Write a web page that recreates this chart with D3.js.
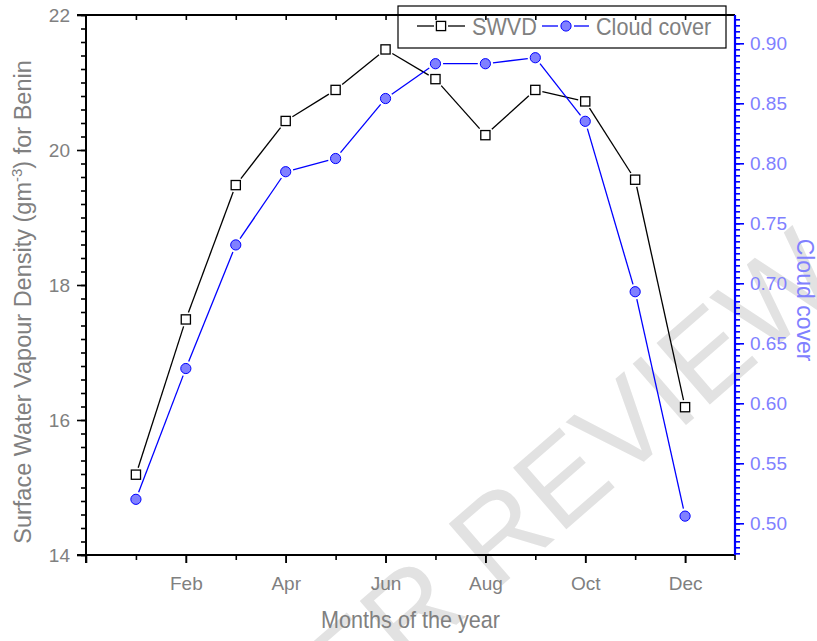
<!DOCTYPE html>
<html>
<head>
<meta charset="utf-8">
<script src="https://cdn.jsdelivr.net/npm/d3@7/dist/d3.min.js"></script>
<style>
  html, body { margin: 0; padding: 0; background: #fff; }
  svg { display: block; }
  text { font-family: "Liberation Sans", Arial, sans-serif; }
</style>
</head>
<body>
<svg id="chart" width="817" height="641"></svg>
<script>
// ---- data ----
const months = ["Jan","Feb","Mar","Apr","May","Jun","Jul","Aug","Sep","Oct","Nov","Dec"];
const monthIndex = [1,2,3,4,5,6,7,8,9,10,11,12];
const swvd = [15.19, 17.49, 19.48, 20.43, 20.89, 21.49, 21.05, 20.22, 20.89, 20.72, 19.56, 16.19];
const cloudCover = [0.520, 0.629, 0.732, 0.793, 0.804, 0.854, 0.883, 0.883, 0.888, 0.835, 0.693, 0.506];
const xTickValues = [2,4,6,8,10,12];
const xTickLabels = ["Feb","Apr","Jun","Aug","Oct","Dec"];
const leftTicks = [14,16,18,20,22];
const rightTicks = [0.50,0.55,0.60,0.65,0.70,0.75,0.80,0.85,0.90];
const seriesNames = ["SWVD","Cloud cover"];

// ---- layout ----
const svg = d3.select("#chart");
const L = 86, R = 735, T = 15, B = 555;
const x = d3.scaleLinear().domain([0,13]).range([L,R]);
const yL = d3.scaleLinear().domain([14,22]).range([B,T]);
const yR = d3.scaleLinear().domain([0.4736,0.9236]).range([B,T]);

const gray = "#808080", lblue = "#8080ff", blue = "#0000ff";

// ---- watermark ----
svg.append("text")
  .attr("transform","translate(846,286) rotate(-41)")
  .attr("text-anchor","end")
  .attr("font-size",118)
  .attr("fill","#e2e2e2")
  .text("PEER REVIEW");

// ---- legend (no fill; axis line runs through it) ----
const leg = svg.append("g");
leg.append("rect").attr("x",398).attr("y",6).attr("width",328).attr("height",42)
  .attr("fill","none").attr("stroke","#000").attr("stroke-width",1.2);

// ---- axes ----
function styleAxis(g, color, w) {
  g.select(".domain").remove();
  g.selectAll(".tick line").attr("stroke",color).attr("stroke-width",w);
}
// left
const gLmin = svg.append("g").attr("transform",`translate(${L},0)`)
  .call(d3.axisLeft(yL).tickValues(d3.range(14,22.001,0.2)).tickSize(5).tickFormat(""));
styleAxis(gLmin,"#000",1.6);
const gL = svg.append("g").attr("transform",`translate(${L},0)`)
  .call(d3.axisLeft(yL).tickValues(leftTicks).tickSize(9).tickPadding(7).tickFormat(d3.format("d")));
styleAxis(gL,"#000",1.6);
gL.selectAll("text").attr("font-size",19).attr("fill",gray);

// bottom
const gB = svg.append("g").attr("transform",`translate(0,${B})`)
  .call(d3.axisBottom(x).tickValues(d3.range(0,13)).tickSize(5).tickFormat(""));
styleAxis(gB,"#000",1.6);
gB.selectAll(".tick line").attr("y2", d => d % 2 === 0 ? 8 : 5);
const gBl = svg.append("g").attr("transform",`translate(0,${B})`)
  .call(d3.axisBottom(x).tickValues(xTickValues).tickSize(8).tickPadding(13.5)
    .tickFormat((d,i) => xTickLabels[i]));
styleAxis(gBl,"#000",1.6);
gBl.selectAll("text").attr("font-size",19).attr("fill",gray);

// top (inward ticks)
const gT = svg.append("g").attr("transform",`translate(0,${T})`)
  .call(d3.axisBottom(x).tickValues(d3.range(1,13)).tickSize(5).tickFormat(""));
styleAxis(gT,"#000",1.6);

// right
const gRmin = svg.append("g").attr("transform",`translate(${R},0)`)
  .call(d3.axisRight(yR).tickValues(d3.range(0.475,0.9236,0.005)).tickSize(5).tickFormat(""));
styleAxis(gRmin,blue,1.6);
const gR = svg.append("g").attr("transform",`translate(${R},0)`)
  .call(d3.axisRight(yR).tickValues(rightTicks).tickSize(9).tickPadding(6).tickFormat(d3.format(".2f")));
styleAxis(gR,blue,1.6);
gR.selectAll("text").attr("font-size",19).attr("fill",lblue);

// axis lines
svg.append("line").attr("x1",L-9).attr("x2",R).attr("y1",T).attr("y2",T).attr("stroke","#000").attr("stroke-width",2);
svg.append("line").attr("x1",L-9).attr("x2",R).attr("y1",B).attr("y2",B).attr("stroke","#000").attr("stroke-width",2);
svg.append("line").attr("x1",L).attr("x2",L).attr("y1",T).attr("y2",B+8).attr("stroke","#000").attr("stroke-width",2);
svg.append("line").attr("x1",R).attr("x2",R).attr("y1",T).attr("y2",B).attr("stroke",blue).attr("stroke-width",2.2);
svg.append("line").attr("x1",R).attr("x2",R).attr("y1",B).attr("y2",B+5).attr("stroke","#000").attr("stroke-width",1.6);

// ---- titles ----
svg.append("text").attr("transform",`translate(${(L+R)/2},628) scale(0.92,1)`)
  .attr("text-anchor","middle").attr("font-size",23.5).attr("fill",gray)
  .text("Months of the year");

const yt = svg.append("text").attr("transform","translate(31,302) rotate(-90)")
  .attr("text-anchor","middle").attr("font-size",23.5).attr("fill",gray);
yt.append("tspan").text("Surface Water Vapour Density (gm");
yt.append("tspan").attr("dy",-9).attr("font-size",15).text("-3");
yt.append("tspan").attr("dy",9).text(") for Benin");

svg.append("text").attr("transform","translate(797,300) rotate(90)")
  .attr("text-anchor","middle").attr("font-size",23).attr("fill",lblue)
  .text("Cloud cover");

// ---- series ----
const SQ = 9.2, CR = 5.1, GAP = 2.5;
function segs(pts, offFn) {
  const out = [];
  for (let i = 0; i < pts.length - 1; i++) {
    const [x1,y1] = pts[i], [x2,y2] = pts[i+1];
    const dx = x2-x1, dy = y2-y1, d = Math.hypot(dx,dy);
    const ux = dx/d, uy = dy/d, o = offFn(ux,uy);
    if (d > 2*o) out.push([x1+ux*o, y1+uy*o, x2-ux*o, y2-uy*o]);
  }
  return out;
}
const sqOff = (ux,uy) => (SQ/2)/Math.max(Math.abs(ux),Math.abs(uy)) + GAP;
const ciOff = () => CR + GAP;

const pS = monthIndex.map((m,i) => [x(m), yL(swvd[i])]);
const pC = monthIndex.map((m,i) => [x(m), yR(cloudCover[i])]);

svg.append("g").selectAll("line").data(segs(pS,sqOff)).join("line")
  .attr("x1",d=>d[0]).attr("y1",d=>d[1]).attr("x2",d=>d[2]).attr("y2",d=>d[3])
  .attr("stroke","#000").attr("stroke-width",1.3);
svg.append("g").selectAll("line").data(segs(pC,ciOff)).join("line")
  .attr("x1",d=>d[0]).attr("y1",d=>d[1]).attr("x2",d=>d[2]).attr("y2",d=>d[3])
  .attr("stroke",blue).attr("stroke-width",1.3);

svg.append("g").selectAll("rect").data(pS).join("rect")
  .attr("x",d=>d[0]-SQ/2).attr("y",d=>d[1]-SQ/2).attr("width",SQ).attr("height",SQ)
  .attr("fill","#fff").attr("stroke","#000").attr("stroke-width",1.3);
svg.append("g").selectAll("circle").data(pC).join("circle")
  .attr("cx",d=>d[0]).attr("cy",d=>d[1]).attr("r",CR)
  .attr("fill",lblue).attr("stroke",blue).attr("stroke-width",1);

// ---- legend contents ----
const ly = 26;
leg.append("line").attr("x1",417).attr("x2",434).attr("y1",ly).attr("y2",ly).attr("stroke","#000").attr("stroke-width",1.3);
leg.append("line").attr("x1",448).attr("x2",465).attr("y1",ly).attr("y2",ly).attr("stroke","#000").attr("stroke-width",1.3);
leg.append("rect").attr("x",441-SQ/2).attr("y",ly-SQ/2).attr("width",SQ).attr("height",SQ)
  .attr("fill","#fff").attr("stroke","#000").attr("stroke-width",1.3);
leg.append("text").attr("transform",`translate(472,34.5) scale(0.92,1)`)
  .attr("font-size",23.5).attr("fill",gray).text(seriesNames[0]);
leg.append("line").attr("x1",542).attr("x2",558).attr("y1",ly).attr("y2",ly).attr("stroke",blue).attr("stroke-width",1.3);
leg.append("line").attr("x1",574).attr("x2",589).attr("y1",ly).attr("y2",ly).attr("stroke",blue).attr("stroke-width",1.3);
leg.append("circle").attr("cx",566).attr("cy",ly).attr("r",CR)
  .attr("fill",lblue).attr("stroke",blue).attr("stroke-width",1);
leg.append("text").attr("transform",`translate(596,34.5) scale(0.92,1)`)
  .attr("font-size",23.5).attr("fill",gray).text(seriesNames[1]);
</script>
</body>
</html>
